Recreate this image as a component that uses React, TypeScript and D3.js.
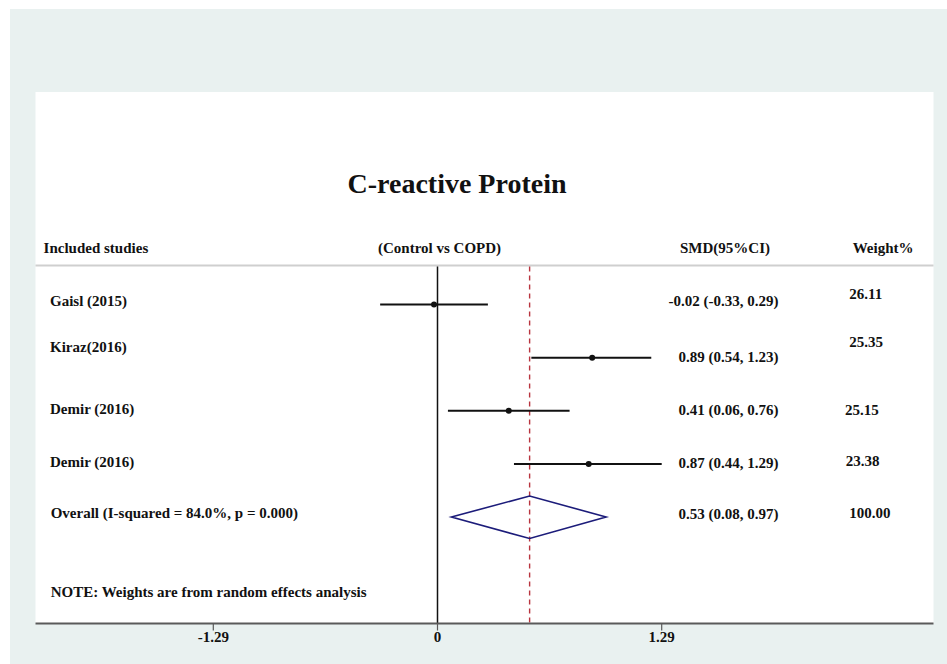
import React from "react";
import * as d3 from "d3";

// Study-level results (standardised mean difference, Control vs COPD)
const studyLabels = ["Gaisl (2015)", "Kiraz(2016)", "Demir (2016)", "Demir (2016)"];
const studySmd = [-0.02, 0.89, 0.41, 0.87];
const studyLow = [-0.33, 0.54, 0.06, 0.44];
const studyHigh = [0.29, 1.23, 0.76, 1.29];
const studyWeights = [26.11, 25.35, 25.15, 23.38];

// Pooled random-effects estimate
const overallLabel = "Overall (I-squared = 84.0%, p = 0.000)";
const overallSmd = 0.53;
const overallLow = 0.08;
const overallHigh = 0.97;
const overallWeight = 100.0;

const axisTicks = [-1.29, 0, 1.29];

const title = "C-reactive Protein";
const headers = {
  studies: "Included studies",
  contrast: "(Control vs COPD)",
  effect: "SMD(95%CI)",
  weight: "Weight%",
};
const note = "NOTE: Weights are from random effects analysis";

// Layout
const W = 947;
const H = 664;
const panel = { left: 35.5, right: 933.5, top: 92, bottom: 623.5 };
const headerLineY = 265.5;
const font = "'Liberation Serif', 'Times New Roman', serif";
const fs = 15;

// small per-row baseline offsets for the text columns
const labelNudge = [1.5, -6, 3.3, 3.3, 1.3];
const effectNudge = [1.5, 4.7, 4, 3.7, 2.3];
const weightNudge = [-5.2, -10.7, 4, 2, 1];
const weightX = [849.3, 849.3, 845, 845.7];

// plain hyphen-minus for negative numbers
const locale = d3.formatLocale({
  decimal: ".",
  thousands: ",",
  grouping: [3],
  currency: ["", ""],
  minus: "-",
});
const fmt = locale.format(".2f");
const ciText = (m: number, lo: number, hi: number) => `${fmt(m)} (${fmt(lo)}, ${fmt(hi)})`;

export default function App() {
  const x = d3.scaleLinear().domain([-1.29, 1.29]).range([213.3, 661.7]);
  const y = d3.scaleLinear().domain([0, 4]).range([304.5, 517]);

  const rows = studyLabels.map((label, i) => ({
    label,
    smd: studySmd[i],
    lo: studyLow[i],
    hi: studyHigh[i],
    w: studyWeights[i],
  }));
  const oy = y(rows.length);

  const diamond = d3.line()([
    [x(overallLow), oy],
    [x(overallSmd), oy - 21],
    [x(overallHigh), oy],
    [x(overallSmd), oy + 21.5],
  ]) + "Z";

  const textProps = {
    fontFamily: font,
    fontSize: fs,
    fontWeight: 700,
    fill: "#111",
  };

  return (
    <svg
      width={W}
      height={H}
      viewBox={`0 0 ${W} ${H}`}
      style={{ position: "absolute", left: 0, top: 0, display: "block" }}
    >
      <rect x={0} y={0} width={W} height={H} fill="#ffffff" />
      <rect x={10} y={9} width={W - 10} height={H - 9} fill="#e9f1f0" />
      <rect
        x={panel.left}
        y={panel.top}
        width={panel.right - panel.left}
        height={panel.bottom - panel.top}
        fill="#ffffff"
      />

      <text
        x={457}
        y={193.3}
        textAnchor="middle"
        fontFamily={font}
        fontSize={28}
        fontWeight={700}
        fill="#111"
      >
        {title}
      </text>

      {/* column headers */}
      <g {...textProps}>
        <text x={43.6} y={252.7}>{headers.studies}</text>
        <text x={378} y={252.7}>{headers.contrast}</text>
        <text x={680} y={252.7}>{headers.effect}</text>
        <text x={852.7} y={252.7}>{headers.weight}</text>
      </g>
      <line
        x1={panel.left}
        x2={panel.right}
        y1={headerLineY}
        y2={headerLineY}
        stroke="#cfcfcf"
        strokeWidth={2}
      />

      {/* null line and pooled-estimate line */}
      <line x1={x(0)} x2={x(0)} y1={headerLineY + 1} y2={panel.bottom} stroke="#111" strokeWidth={1.5} />
      <line
        x1={x(overallSmd)}
        x2={x(overallSmd)}
        y1={headerLineY + 1}
        y2={panel.bottom}
        stroke="#b8343f"
        strokeWidth={1.4}
        strokeDasharray="5,4"
      />

      {/* study rows */}
      {rows.map((r, i) => (
        <g key={i}>
          <line x1={x(r.lo)} x2={x(r.hi)} y1={y(i)} y2={y(i)} stroke="#111" strokeWidth={2} />
          <circle cx={x(r.smd)} cy={y(i)} r={3} fill="#111" />
          <text {...textProps} x={50} y={y(i) + labelNudge[i]}>{r.label}</text>
          <text {...textProps} x={778.5} y={y(i) + effectNudge[i]} textAnchor="end">
            {ciText(r.smd, r.lo, r.hi)}
          </text>
          <text {...textProps} x={weightX[i]} y={y(i) + weightNudge[i]}>
            {fmt(r.w)}
          </text>
        </g>
      ))}

      {/* pooled estimate */}
      <path d={diamond} fill="none" stroke="#1c1c7a" strokeWidth={1.6} strokeLinejoin="miter" />
      <text {...textProps} x={50.7} y={oy + labelNudge[4]}>{overallLabel}</text>
      <text {...textProps} x={778.5} y={oy + effectNudge[4]} textAnchor="end">
        {ciText(overallSmd, overallLow, overallHigh)}
      </text>
      <text {...textProps} x={849.3} y={oy + weightNudge[4]}>{fmt(overallWeight)}</text>

      <text {...textProps} x={50.7} y={597.3}>{note}</text>

      {/* x axis */}
      <line
        x1={panel.left}
        x2={panel.right}
        y1={panel.bottom}
        y2={panel.bottom}
        stroke="#5a5a5a"
        strokeWidth={2}
      />
      {axisTicks.map((t) => (
        <g key={t}>
          <line x1={x(t)} x2={x(t)} y1={panel.bottom} y2={panel.bottom + 7} stroke="#5a5a5a" strokeWidth={1.2} />
          <text {...textProps} x={x(t)} y={642} textAnchor="middle">
            {t === 0 ? "0" : fmt(t)}
          </text>
        </g>
      ))}
    </svg>
  );
}
